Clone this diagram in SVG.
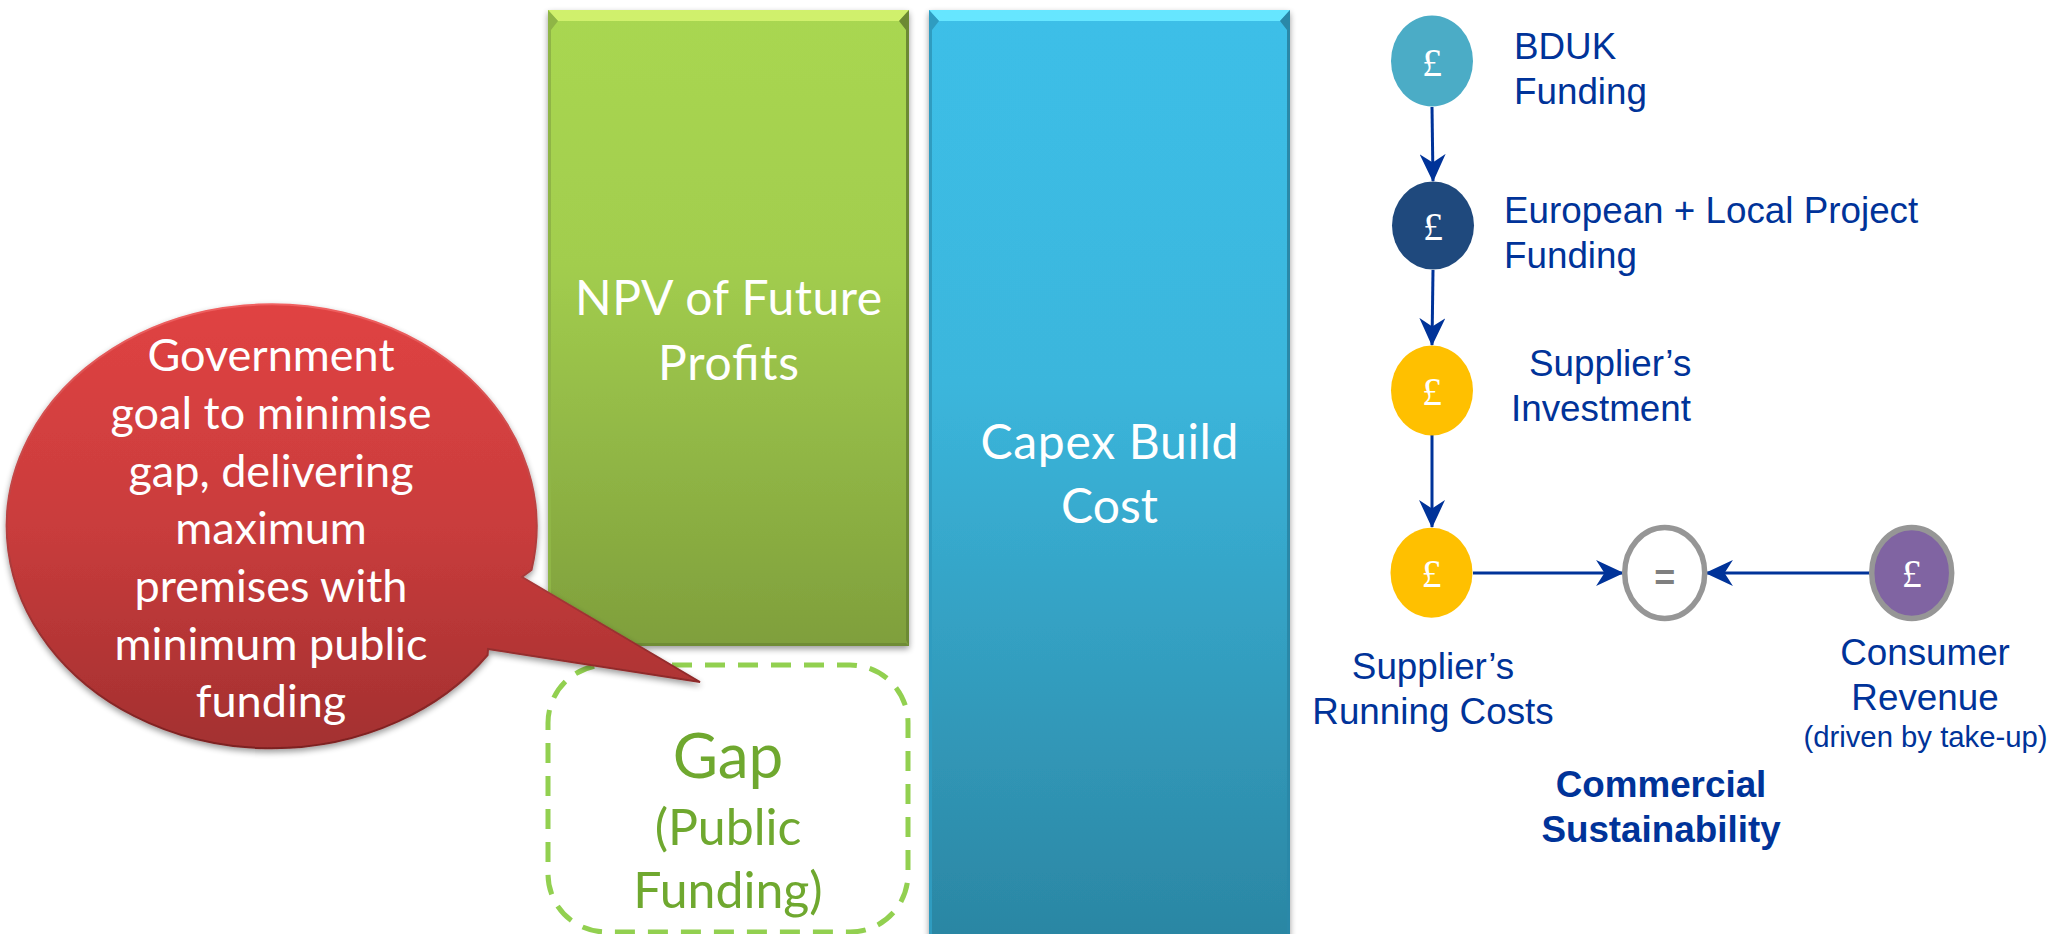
<svg xmlns="http://www.w3.org/2000/svg" width="2060" height="934" viewBox="0 0 2060 934">
<style>
.c{font-family:Lato,"Liberation Sans",sans-serif;text-anchor:middle}
.w{fill:#fff}
.g{fill:#6fa82f}
.b{font-family:"Liberation Sans",Arial,sans-serif;font-size:36.800px;fill:#003399}
.m{text-anchor:middle}
.p{font-family:"Liberation Serif",serif;font-size:40px;fill:#fff;text-anchor:middle}
.l{stroke:#003399;stroke-width:3;fill:none}
</style>
<defs>
<linearGradient id="gr" x1="0" y1="0" x2="0" y2="1"><stop offset="0" stop-color="#a9d751"/><stop offset=".4" stop-color="#a2cd4e"/><stop offset="1" stop-color="#7f9f3c"/></linearGradient>
<linearGradient id="bl" x1="0" y1="0" x2="0" y2="1"><stop offset="0" stop-color="#3cbfe8"/><stop offset=".4" stop-color="#3bb6dc"/><stop offset="1" stop-color="#2b86a3"/></linearGradient>
<linearGradient id="rd" x1="0" y1="0" x2="0" y2="1"><stop offset="0" stop-color="#e04343"/><stop offset=".5" stop-color="#c93c3c"/><stop offset="1" stop-color="#a33030"/></linearGradient>
<linearGradient id="rs" x1="0" y1="0" x2="0" y2="1"><stop offset="0" stop-color="#f06060"/><stop offset="1" stop-color="#7c2020"/></linearGradient>
<filter id="s" x="-5%" y="-5%" width="110%" height="110%"><feGaussianBlur in="SourceAlpha" stdDeviation="3"/><feOffset dy="3"/><feComponentTransfer><feFuncA type="linear" slope=".4"/></feComponentTransfer><feMerge><feMergeNode/><feMergeNode in="SourceGraphic"/></feMerge></filter>
<marker id="a" viewBox="0 0 30 28" refX="29" refY="14" markerWidth="28" markerHeight="26" markerUnits="userSpaceOnUse" orient="auto"><path d="M0 0L30 14L0 28L9 14Z" fill="#003399"/></marker>
</defs>

<g id="npv">
<rect x="548" y="10" width="361" height="636" fill="url(#gr)" filter="url(#s)"/>
<polygon points="548,10 909,10 899,21 558,21" fill="#d0f06c"/>
<polygon points="548,10 558,21 551,30 551,640 548,646" fill="#8fb546"/>
<polygon points="909,10 899,21 906,30 906,640 909,646" fill="#6c8a33"/>
<polygon points="548,646 551,643 906,643 909,646" fill="#6f8c35"/>
<text class="c w" x="728.500" y="315" font-size="48" textLength="307">NPV of Future</text>
<text class="c w" x="728.500" y="380" font-size="48" textLength="141">Profits</text>
</g>

<g id="capex">
<rect x="929" y="10" width="361" height="930" fill="url(#bl)" filter="url(#s)"/>
<polygon points="929,10 1290,10 1280,21 939,21" fill="#66e6ff"/>
<polygon points="929,10 939,21 932,30 932,934 929,934" fill="#2f9cc0"/>
<polygon points="1290,10 1280,21 1287,30 1287,934 1290,934" fill="#2a88a8"/>
<text class="c w" x="1109.500" y="459" font-size="48" textLength="258">Capex Build</text>
<text class="c w" x="1109.500" y="523" font-size="48">Cost</text>
</g>

<g id="gap">
<rect x="548" y="665" width="360" height="267" rx="58" ry="58" fill="#fff" stroke="#92d050" stroke-width="5" stroke-dasharray="20 13"/>
<text class="c g" x="728" y="778" font-size="62">Gap</text>
<text class="c g" x="728" y="845" font-size="50">(Public</text>
<text class="c g" x="728" y="908" font-size="50">Funding)</text>
</g>

<g id="callout">
<path d="M522 577L700 682L488 649L487.600 655A265 222 0 1 1 531.500 570Z" fill="url(#rd)" stroke="url(#rs)" stroke-width="2" filter="url(#s)"/>
<text class="c w" x="271" y="371" font-size="45">Government</text>
<text class="c w" x="271" y="429" font-size="45">goal to minimise</text>
<text class="c w" x="271" y="487" font-size="45">gap, delivering</text>
<text class="c w" x="271" y="544" font-size="45">maximum</text>
<text class="c w" x="271" y="602" font-size="45">premises with</text>
<text class="c w" x="271" y="660" font-size="45">minimum public</text>
<text class="c w" x="271" y="717" font-size="45">funding</text>
</g>

<g id="connectors">
<line class="l" x1="1432" y1="107" x2="1433" y2="181" marker-end="url(#a)"/>
<line class="l" x1="1433" y1="270" x2="1432" y2="345" marker-end="url(#a)"/>
<line class="l" x1="1432" y1="435" x2="1432" y2="527" marker-end="url(#a)"/>
<line class="l" x1="1473" y1="573" x2="1623" y2="573" marker-end="url(#a)"/>
<line class="l" x1="1870" y1="573" x2="1706" y2="573" marker-end="url(#a)"/>
</g>

<g id="bduk">
<ellipse cx="1432" cy="61" rx="41" ry="45.500" fill="#4bacc6"/>
<text class="p" x="1432" y="76">£</text>
<text class="b" x="1514" y="59">BDUK</text>
<text class="b" x="1514" y="104">Funding</text>
</g>
<g id="european">
<ellipse cx="1433" cy="225.500" rx="41" ry="44" fill="#1f497d"/>
<text class="p" x="1433" y="240">£</text>
<text class="b" x="1504" y="223">European + Local Project</text>
<text class="b" x="1504" y="268">Funding</text>
</g>
<g id="investment">
<ellipse cx="1432" cy="390.500" rx="41" ry="45" fill="#ffc000"/>
<text class="p" x="1432" y="405">£</text>
<text class="b" x="1529" y="376">Supplier’s</text>
<text class="b" x="1511" y="421">Investment</text>
</g>
<g id="running">
<ellipse cx="1431.500" cy="572.700" rx="41" ry="45" fill="#ffc000"/>
<text class="p" x="1431.500" y="587">£</text>
<text class="b m" x="1433" y="679">Supplier’s</text>
<text class="b m" x="1433" y="724">Running Costs</text>
</g>
<g id="equals">
<ellipse cx="1664.700" cy="573" rx="40" ry="45.500" fill="#fff" stroke="#969696" stroke-width="5.500"/>
<text x="1664.700" y="590" text-anchor="middle" font-family="Liberation Sans,sans-serif" font-weight="700" font-size="36" fill="#7f7f7f">=</text>
</g>
<g id="revenue">
<ellipse cx="1911.700" cy="573" rx="40" ry="45.500" fill="#8064a2" stroke="#969696" stroke-width="5.500"/>
<text class="p" x="1911.700" y="587">£</text>
<text class="b m" x="1925" y="665">Consumer</text>
<text class="b m" x="1925" y="710">Revenue</text>
<text class="b m" x="1925.500" y="747" style="font-size:29.300px">(driven by take-up)</text>
</g>
<g id="sustainability">
<text class="b m" x="1661" y="797" font-weight="700">Commercial</text>
<text class="b m" x="1661" y="842" font-weight="700">Sustainability</text>
</g>
</svg>
